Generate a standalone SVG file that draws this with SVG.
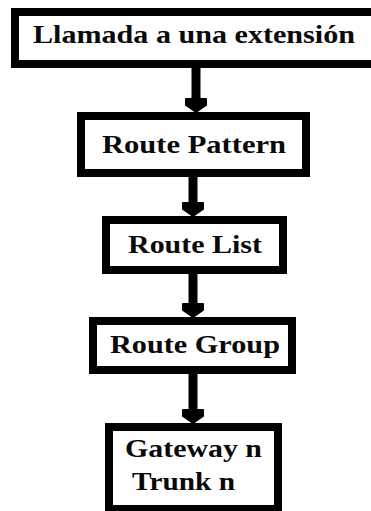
<svg xmlns="http://www.w3.org/2000/svg" width="371" height="511" viewBox="0 0 371 511">
  <style>
    .box { fill: #ffffff; stroke: #000000; stroke-width: 8; }
    .lbl { font-family: "Liberation Serif", "Times New Roman", serif; font-weight: bold; font-size: 25px; fill: #0a0a0a; }
    .shaft { stroke: #000000; stroke-width: 9; fill: none; }
    .head { fill: #000000; stroke: #000000; stroke-width: 2; stroke-linejoin: round; }
  </style>
  <rect width="371" height="511" fill="#ffffff"/>

  <!-- connectors -->
  <g id="connectors">
    <line class="shaft" x1="196" y1="68" x2="196" y2="102"/>
    <path class="head" d="M186,99 L206,99 L206,105 L196,112 L186,105 Z"/>
    <line class="shaft" x1="193" y1="177" x2="193" y2="206"/>
    <path class="head" d="M183,203 L203,203 L203,209 L193,216 L183,209 Z"/>
    <line class="shaft" x1="193" y1="274" x2="193" y2="307"/>
    <path class="head" d="M183,304 L203,304 L203,310 L193,317 L183,310 Z"/>
    <line class="shaft" x1="193" y1="374" x2="193" y2="413"/>
    <path class="head" d="M183,410 L203,410 L203,416 L193,423 L183,416 Z"/>
  </g>

  <g id="llamada">
    <rect class="box" x="15" y="12" width="380" height="52"/>
    <text class="lbl" x="33" y="43" textLength="322" lengthAdjust="spacingAndGlyphs">Llamada a una extensión</text>
  </g>

  <g id="route-pattern">
    <rect class="box" x="81" y="116" width="225" height="57"/>
    <text class="lbl" x="102" y="153" textLength="184" lengthAdjust="spacingAndGlyphs">Route Pattern</text>
  </g>

  <g id="route-list">
    <rect class="box" x="106" y="220" width="177" height="50"/>
    <text class="lbl" x="128" y="253" textLength="134" lengthAdjust="spacingAndGlyphs">Route List</text>
  </g>

  <g id="route-group">
    <rect class="box" x="93" y="321" width="199" height="49"/>
    <text class="lbl" x="110" y="353" textLength="170" lengthAdjust="spacingAndGlyphs">Route Group</text>
  </g>

  <g id="gateway-trunk">
    <rect class="box" x="109" y="427" width="169" height="82"/>
    <text class="lbl" x="125" y="457" textLength="137" lengthAdjust="spacingAndGlyphs">Gateway n</text>
    <text class="lbl" x="132" y="490" textLength="103" lengthAdjust="spacingAndGlyphs">Trunk n</text>
  </g>
</svg>
